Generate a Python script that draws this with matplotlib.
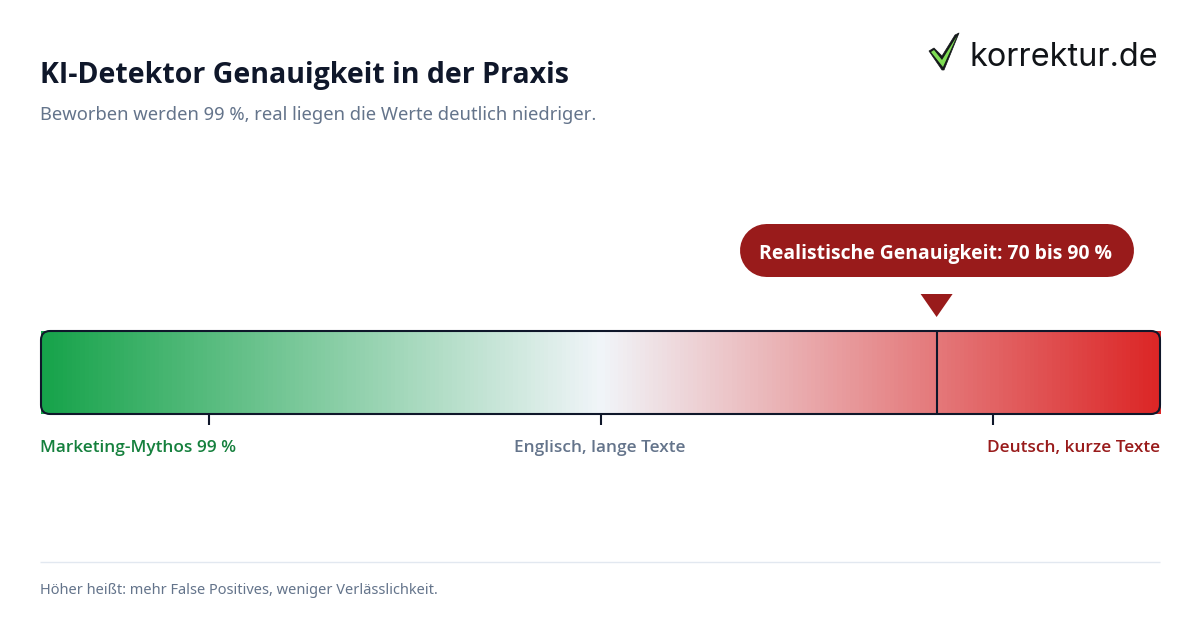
import matplotlib
matplotlib.use("Agg")
import matplotlib.pyplot as plt
from matplotlib.colors import LinearSegmentedColormap
from matplotlib.patches import FancyBboxPatch, Polygon
import numpy as np

# Data
gradient_stops = [0.0, 0.5, 1.0]
gradient_colors = ["#16a34a", "#f1f5f9", "#dc2626"]
tick_values = [15, 50, 85]
tick_labels = ["Marketing-Mythos 99 %", "Englisch, lange Texte", "Deutsch, kurze Texte"]
tick_label_colors = ["#15803d", "#64748b", "#991b1b"]
marker_value = 80
callout_text = "Realistische Genauigkeit: 70 bis 90 %"
title = "KI-Detektor Genauigkeit in der Praxis"
subtitle = "Beworben werden 99 %, real liegen die Werte deutlich niedriger."
footer = "Höher heißt: mehr False Positives, weniger Verlässlichkeit."

W, H = 1200, 630
plt.rcParams["font.family"] = ["Noto Sans", "DejaVu Sans"]
BOLD = ["Open Sans", "DejaVu Sans"]

fig = plt.figure(figsize=(12, 6.3), dpi=100, facecolor="white")

# full figure overlay in pixel coordinates (y down) for text and decoration
page = fig.add_axes([0, 0, 1, 1], zorder=0)
page.set_xlim(0, W)
page.set_ylim(H, 0)
page.axis("off")

def px(size):
    return size * 0.72

page.text(40, 72.5, title, fontsize=px(28.5), fontweight="bold", family=BOLD, color="#0f172a", va="center_baseline")
page.text(40, 113, subtitle, fontsize=px(18.4), color="#64748b", va="center_baseline")
page.text(40, 589, footer, fontsize=px(14.6), color="#64748b", va="center_baseline")
page.plot([40, 1160], [562, 562], color="#e2e8f0", lw=1, solid_capstyle="butt")

# logo
page.text(970, 54, "korrektur.de", fontsize=px(32.5), color="#111418", family="Inter",
          va="center_baseline")
check_outer = [(929, 51), (934, 48), (942, 56), (955, 35), (959, 33), (944, 70), (942, 70)]
check_inner = [(931, 52), (934, 50), (942, 60), (957, 36), (943, 67)]
page.add_patch(Polygon(check_outer, closed=True, fc="#14181a", ec="#14181a", lw=0.5, joinstyle="round"))
page.add_patch(Polygon(check_inner, closed=True, fc="#7fdc55", ec="none"))

# gradient bar on a 0-100 scale
ax = fig.add_axes([40.6 / W, 1 - 414 / H, 1120 / W, 83 / H], zorder=1)
cmap = LinearSegmentedColormap.from_list("bar", list(zip(gradient_stops, gradient_colors)))
ax.imshow(np.linspace(0, 1, 256).reshape(1, -1), cmap=cmap, aspect="auto",
          extent=[0, 99.95, 0, 1], interpolation="nearest", zorder=1)
ax.set_xlim(0, 100)
ax.set_ylim(0, 1)
for s in ax.spines.values():
    s.set_visible(False)
ax.set_yticks([])
ax.set_xticks(tick_values)
ax.set_xticklabels([])
ax.tick_params(axis="x", length=8, width=1.5, color="#0f172a", direction="out")
ax.patch.set_alpha(0)

# rounded outline, drawn in pixels
outline = FancyBboxPatch((41, 331), 1119, 83, boxstyle="round,pad=0,rounding_size=9",
                         fc="none", ec="#0f172a", lw=1.5, transform=page.transData,
                         zorder=5, clip_on=False)
ax.add_patch(outline)

ax.axvline(marker_value, color="#0f172a", lw=1.5, zorder=4)

# tick labels: first and last are aligned to the bar ends
aligns = [(40, "left"), (600, "center"), (1160, "right")]
for (x, ha), lab, col in zip(aligns, tick_labels, tick_label_colors):
    page.text(x, 445.5, lab, fontsize=px(17.3), fontweight="semibold", family=BOLD, color=col, ha=ha,
              va="center_baseline")

# callout pill as a thick line with round caps
page.plot([766, 1107], [250, 250], color="#991b1b", lw=px(53), solid_capstyle="round")
page.text(935.5, 251, callout_text, fontsize=px(19.4), fontweight="bold", family=BOLD, color="white",
          ha="center", va="center_baseline")

# triangle pointer above the marker
marker_x = ax.transData.transform((marker_value, 0))[0]
page.add_patch(Polygon([(marker_x - 16, 294), (marker_x + 16, 294), (marker_x, 317)],
                       closed=True, fc="#991b1b", ec="none"))

fig.savefig("out.png", dpi=100)
